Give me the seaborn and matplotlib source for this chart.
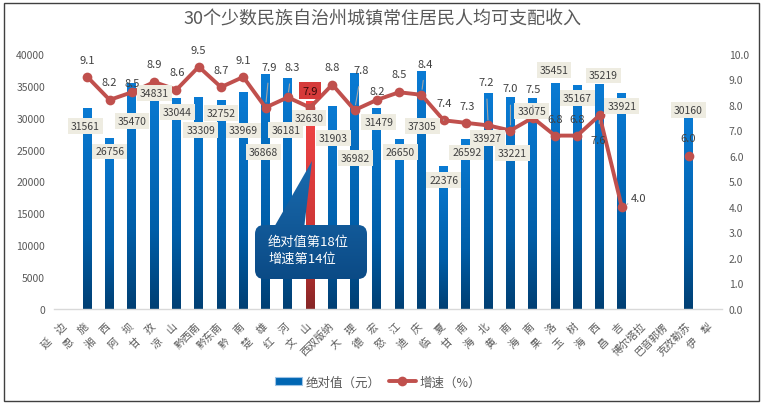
import numpy as np
import pandas as pd
import matplotlib
matplotlib.use("Agg")
import matplotlib.pyplot as plt
import seaborn as sns
from matplotlib.colors import LinearSegmentedColormap
from matplotlib.patches import FancyBboxPatch, Polygon, Rectangle, Patch
from matplotlib.lines import Line2D

# ---------------- data ----------------
regions = ["延边", "恩施", "湘西", "阿坝", "甘孜", "凉山", "黔西南", "黔东南", "黔南", "楚雄",
           "红河", "文山", "西双版纳", "大理", "德宏", "怒江", "迪庆", "临夏", "甘南", "海北",
           "黄南", "海南", "果洛", "玉树", "海西", "昌吉", "博尔塔拉", "巴音郭楞", "克孜勒苏", "伊犁"]
nan = np.nan
income = [nan, 31561, 26756, 35470, 34831, 33044, 33309, 32752, 33969, 36868,
          36181, 32630, 31903, 36982, 31479, 26650, 37305, 22376, 26592, 33927,
          33221, 33075, 35451, 35167, 35219, 33921, nan, nan, 30160, nan]
growth = [nan, 9.1, 8.2, 8.5, 8.9, 8.6, 9.5, 8.7, 9.1, 7.9,
          8.3, 7.9, 8.8, 7.8, 8.2, 8.5, 8.4, 7.4, 7.3, 7.2,
          7.0, 7.5, 6.8, 6.8, 7.6, 4.0, nan, nan, 6.0, nan]
highlight = "文山"
title = "30个少数民族自治州城镇常住居民人均可支配收入"
left_ticks = [0, 5000, 10000, 15000, 20000, 25000, 30000, 35000, 40000]
right_ticks = [0, 1, 2, 3, 4, 5, 6, 7, 8, 9, 10]
callout_lines = ["绝对值第18位", "增速第14位"]
legend_labels = ["绝对值（元）", "增速（%）"]

# label placement (pixel offsets, layout only)
inc_dx = [0, -2, 0, 0, 0, 1, 2, 0, 0, -2, -2, -1, 1, 1, 2, 1, 1, 0, 1, -1, 2, -1, -1, 0, 4, 0, 0, 0, 0, 0]
inc_dy = [0, -18, -13, -38, -6, -14, -33, -13, -38, -78, -52, -17, -32, -85, -14, -13, -55, -14, -13, -45,
          -56, -13, 13, -13, 9, -13, 0, 0, 7, 0]
gr_dx = [0, 0, 0, 0, 0, 1, 0, 0, 0, 4, 4, 0, 0, 7, 0, 0, 4, 1, 1, -2, 0, 0, 0, 0, -1, 17, 0, 0, 0, 0]
gr_dy = [0, 17, 18, 9, 18, 18, 17, 17, 17, 41, 30, 17, 18, 40, 9, 18, 31, 17, 17, 43, 42, 29, 17, 17,
         -25, 9, 0, 0, 18, 0]
gr_leader = [0, 0, 0, 0, 0, 0, 0, 0, 0, 1, 1, 0, 0, 1, 0, 0, 1, 1, 0, 1, 1, 1, 0, 0, 1, 1, 0, 0, 0, 0]

# ---------------- style ----------------
sns.set_theme(style="white")
plt.rcParams["font.family"] = ["Noto Sans CJK SC", "DejaVu Sans"]
TXT = "#595959"
LBL = "#404040"

W, H = 763, 406
fig = plt.figure(figsize=(W / 100, H / 100), dpi=100)
fig.patch.set_facecolor("white")
ax = fig.add_axes([54 / W, 1 - 310 / H, (722 - 54) / W, (310 - 55) / H])

df = pd.DataFrame({"region": regions, "income": income, "growth": growth})
sns.barplot(data=df, x="region", y="income", order=regions, ax=ax, width=0.4,
            color="#0070c0", saturation=1, errorbar=None)

blue_cmap = LinearSegmentedColormap.from_list("b", [(0, "#003f73"), (0.35, "#005ea8"), (1, "#0a7bd4")])
red_cmap = LinearSegmentedColormap.from_list("r", [(0, "#862626"), (0.3, "#c83434"), (1, "#f54646")])
grad = np.linspace(0, 1, 256).reshape(-1, 1)
hi_idx = regions.index(highlight)
for p in list(ax.patches):
    h = p.get_height()
    if not np.isfinite(h) or h <= 0:
        continue
    i = int(round(p.get_x() + p.get_width() / 2))
    cm = red_cmap if i == hi_idx else blue_cmap
    im = ax.imshow(grad, extent=[p.get_x(), p.get_x() + p.get_width(), 0, h], origin="lower",
                   aspect="auto", cmap=cm, zorder=p.get_zorder() + 0.1, interpolation="bilinear")
    im.set_clip_path(p)

ax.set_xlim(-0.5, len(regions) - 0.5)
ax.set_ylim(0, 40000)
ax.set_xlabel("")
ax.set_ylabel("")
ax.set_yticks(left_ticks)
ax.set_yticklabels([str(t) for t in left_ticks])
ax.tick_params(axis="y", length=0, pad=6.5, labelsize=7.5, labelcolor=TXT)
padded = [r[0] + "\u3000" + r[1] if len(r) == 2 else r for r in regions]
ax.set_xticks(range(len(regions)))
ax.set_xticklabels(padded, rotation=45, ha="right", va="center", rotation_mode="anchor",
                   fontsize=7.5, color=TXT)
ax.tick_params(axis="x", length=0, pad=10.8)
for s in ["top", "left", "right"]:
    ax.spines[s].set_visible(False)
ax.spines["bottom"].set_color("#d9d9d9")
ax.spines["bottom"].set_linewidth(1)

# ---------------- growth line ----------------
ax2 = ax.twinx()
idx = np.arange(len(regions))
g = np.array(growth, dtype=float)
finite = np.isfinite(g)
runs, cur = [], []
for i in idx:
    if finite[i]:
        cur.append(i)
    elif cur:
        runs.append(cur); cur = []
if cur:
    runs.append(cur)
for run in runs:
    sns.lineplot(x=idx[run], y=g[run], ax=ax2, color="#c0504d", lw=2.8, marker="o",
                 markersize=7, markeredgewidth=0, legend=False, zorder=3)
ax2.set_ylim(0, 10)
ax2.set_xlim(-0.5, len(regions) - 0.5)
ax2.set_ylabel("")
ax2.set_yticks(right_ticks)
ax2.set_yticklabels([f"{t:.1f}" for t in right_ticks])
ax2.tick_params(axis="y", length=0, pad=5, labelsize=7.5, labelcolor=TXT)
for s in ax2.spines.values():
    s.set_visible(False)

# ---------------- data labels ----------------
for i in idx:
    v = income[i]
    if np.isfinite(v):
        ax2.annotate(f"{int(v)}", xy=(i, v), xycoords=ax.transData,
                     xytext=(inc_dx[i], inc_dy[i]), textcoords="offset pixels",
                     ha="center", va="center", fontsize=7.5, color=LBL, zorder=6,
                     annotation_clip=False,
                     bbox=dict(boxstyle="square,pad=0.28", fc="#eeece1", ec="none"))
for i in idx:
    v = growth[i]
    if not np.isfinite(v):
        continue
    kw = dict(ha="center", va="center", fontsize=8, color=LBL, zorder=6, annotation_clip=False)
    if i == hi_idx:
        kw["bbox"] = dict(boxstyle="square,pad=0.3", fc="#d63a3a", ec="none")
        kw["color"] = "#3a0a0a"
    if gr_leader[i]:
        kw["arrowprops"] = dict(arrowstyle="-", color="#a6a6a6", lw=0.8, shrinkA=6, shrinkB=4)
    ax2.annotate(f"{v:.1f}", xy=(i, v), xytext=(gr_dx[i], gr_dy[i]), textcoords="offset pixels", **kw)

# ---------------- overlay (title, callout, legend, border) ----------------
ov = fig.add_axes([0, 0, 1, 1], zorder=10)
ov.set_xlim(0, W)
ov.set_ylim(H, 0)
ov.axis("off")
ov.patch.set_visible(False)

ov.text(382, 20, title, ha="center", va="center", fontsize=13, color=TXT)

call_cmap = LinearSegmentedColormap.from_list("c", ["#0b4a85", "#1a6cb0"])
box = FancyBboxPatch((263, 234), 96, 38, boxstyle="round,pad=8,rounding_size=9",
                     fc="none", ec="none")
tri = Polygon([(273, 230), (304, 230), (312, 162)], closed=True, fc="none", ec="none")
for shp in (box, tri):
    ov.add_patch(shp)
    im = ov.imshow(grad, extent=[250, 372, 282, 160], origin="lower", aspect="auto",
                   cmap=call_cmap, interpolation="bilinear", zorder=2)
    im.set_clip_path(shp)
ov.set_xlim(0, W)
ov.set_ylim(H, 0)
ov.text(268, 242, callout_lines[0], color="white", fontsize=9.5, va="center", ha="left", zorder=3)
ov.text(268, 259, callout_lines[1], color="white", fontsize=9.5, va="center", ha="left", zorder=3)

ov.add_patch(Rectangle((3.5, 3.5), 755, 398, fill=False, ec="#404040", lw=1, zorder=1))

handles = [Patch(facecolor="#0066b3", edgecolor="#9dc3e6", lw=0.8),
           Line2D([0], [0], color="#c0504d", lw=2.8, marker="o", ms=7, mew=0)]
leg = fig.legend(handles, legend_labels, loc="center", bbox_to_anchor=(378 / W, 1 - 383 / H),
                 ncol=2, frameon=False, fontsize=9, handlelength=2.2, handleheight=0.6,
                 columnspacing=0.6, handletextpad=0.3)
for t in leg.get_texts():
    t.set_color(TXT)

fig.savefig("out.png", dpi=100)
